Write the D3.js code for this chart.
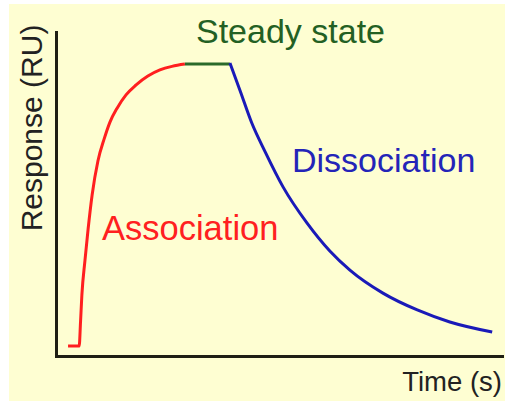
<!DOCTYPE html>
<html>
<head>
<meta charset="utf-8">
<script src="https://cdn.jsdelivr.net/npm/d3@7"></script>
<style>
  html, body { margin: 0; padding: 0; background: #ffffff; }
  svg { display: block; font-family: "Liberation Sans", Arial, sans-serif; }
</style>
</head>
<body>
<svg id="chart" width="505" height="401"></svg>
<script>
// Association phase (time, response)
const associationX = [2.7, 5.2, 5.5, 5.8, 6.5, 7.2, 8.1, 9.4, 10.8, 12.1, 13.7, 15.7, 17.9, 20.6, 23.3, 26.0, 28.9];
const associationY = [3.1, 3.1, 10.5, 18.8, 29.6, 39.2, 49.7, 60.2, 67.0, 72.2, 76.5, 80.6, 83.6, 86.4, 88.3, 89.4, 90.1];
// Steady state
const steadyX = [28.9, 39.0];
const steadyY = [90.1, 90.1];
// Dissociation phase
const dissociationX = [39.0, 41.3, 43.9, 46.9, 50.9, 56.3, 61.4, 65.9, 73.3, 81.0, 88.3, 97.8];
const dissociationY = [90.4, 81.8, 71.9, 63.0, 52.2, 41.0, 32.4, 26.5, 19.4, 14.2, 10.5, 7.4];

const labels = ["Steady state", "Dissociation", "Association"];
const xTitle = "Time (s)";
const yTitle = "Response (RU)";

const svg = d3.select("#chart");
const W = 505, H = 401;

svg.append("rect").attr("x", 9).attr("y", 4).attr("width", W - 9).attr("height", H - 4)
  .attr("fill", "#fefed2");

const x = d3.scaleLinear().domain([0, 100]).range([56, 502]);
const y = d3.scaleLinear().domain([0, 100]).range([356, 32]);

// axes
const xAxis = d3.axisBottom(x).tickValues([]).tickSizeOuter(0);
const yAxis = d3.axisLeft(y).tickValues([]).tickSizeOuter(0);
const gx = svg.append("g").attr("transform", `translate(0,${y(0)})`).call(xAxis);
const gy = svg.append("g").attr("transform", `translate(${x(0)},0)`).call(yAxis);
[gx, gy].forEach(g => g.select(".domain").attr("stroke", "#1e1e14").attr("stroke-width", 3).attr("stroke-linecap", "square"));

const line = d3.line().x(d => x(d[0])).y(d => y(d[1])).curve(d3.curveMonotoneX);
const zip = (a, b) => a.map((v, i) => [v, b[i]]);

svg.append("path").datum(zip(associationX, associationY)).attr("d", line)
  .attr("fill", "none").attr("stroke", "#ff1f1f").attr("stroke-width", 3);
svg.append("path").datum(zip(steadyX, steadyY)).attr("d", line)
  .attr("fill", "none").attr("stroke", "#2a6a2a").attr("stroke-width", 3);
svg.append("path").datum(zip(dissociationX, dissociationY)).attr("d", line)
  .attr("fill", "none").attr("stroke", "#1a1ab8").attr("stroke-width", 3);

// phase labels
svg.append("text").attr("x", 196).attr("y", 43).attr("font-size", 34)
  .attr("fill", "#236023").text(labels[0]);
svg.append("text").attr("x", 292).attr("y", 172).attr("font-size", 34)
  .attr("fill", "#2424b8").text(labels[1]);
svg.append("text").attr("x", 102).attr("y", 240).attr("font-size", 34.5)
  .attr("fill", "#ff2020").text(labels[2]);

// axis titles
svg.append("text").attr("x", 502).attr("y", 391).attr("text-anchor", "end")
  .attr("font-size", 27.5).attr("fill", "#222").text(xTitle);
svg.append("text").attr("transform", "translate(42,128) rotate(-90)")
  .attr("text-anchor", "middle").attr("font-size", 30).attr("fill", "#222").text(yTitle);
</script>
</body>
</html>
